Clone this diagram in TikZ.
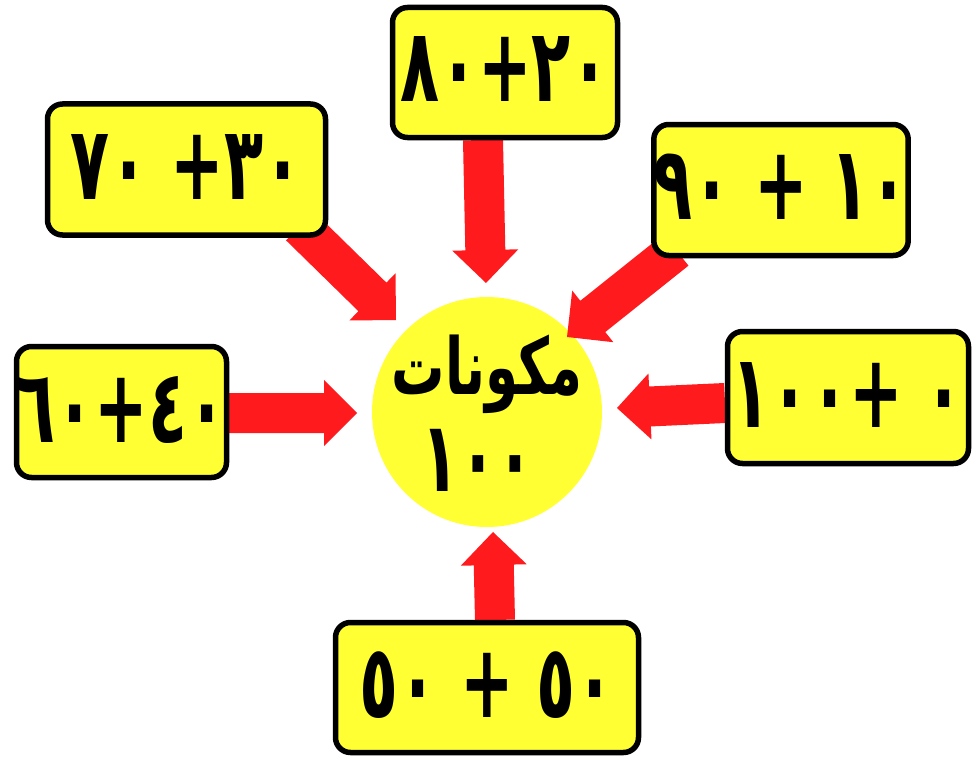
\documentclass[tikz,border=0pt]{standalone}
\usepackage{fontspec}
\usepackage{graphicx}
\usetikzlibrary{calc}
\TeXXeTstate=1
\newfontfamily\arabicfont[Script=Arabic]{DejaVu Sans}
\definecolor{boxyellow}{RGB}{255,255,51}
\definecolor{arrred}{RGB}{255,26,30}
\newcommand\redarrow[2]{%
  \coordinate (hb) at ($(#2)!33pt!(#1)$);
  \fill[arrred] ($(#1)!20pt!90:(#2)$) -- ($(hb)!20pt!-90:(#1)$) -- ($(hb)!33pt!-90:(#1)$) -- (#2)
    -- ($(hb)!33pt!90:(#1)$) -- ($(hb)!20pt!90:(#1)$) -- ($(#1)!20pt!-90:(#2)$) -- cycle;
}
\newcommand\tallnum[1]{\raisebox{6pt}{\scalebox{1}[1.6]{\beginR #1\endR}}}
\begin{document}
\begin{tikzpicture}[x=1pt,y=-1pt,
  box/.style={draw=black, line width=5.5pt, fill=boxyellow, rounded corners=15pt, inner sep=0pt,
    font=\arabicfont\bfseries\fontsize{64}{70}\selectfont},
  ctext/.style={inner sep=0pt, font=\arabicfont\bfseries\fontsize{56}{60}\selectfont}]
\useasboundingbox (0,0) rectangle (978,760);
\node[circle, fill=boxyellow, minimum size=230pt, inner sep=0pt] (c) at (487,412) {};
\node[ctext] (ct) at (487,374) {\scalebox{0.95}[1.4]{\beginR مكونات\endR}};
\node[ctext] (cn) at (478,460) {\scalebox{1.1}[1.75]{\beginR ١٠٠\endR}};
% arrow ends
\coordinate (sA) at (483,140); \coordinate (tA) at (486,283);
\coordinate (sB) at (300,226); \coordinate (tB) at (396,320);
\coordinate (sC) at (676,250); \coordinate (tC) at (567,337);
\coordinate (sD) at (229,413); \coordinate (tD) at (357,413);
\coordinate (sE) at (725,403); \coordinate (tE) at (617,408);
\coordinate (sF) at (495,620); \coordinate (tF) at (493,532);
\redarrow{sA}{tA}
\redarrow{sB}{tB}
\redarrow{sC}{tC}
\redarrow{sD}{tD}
\redarrow{sE}{tE}
\redarrow{sF}{tF}
% boxes
\node[box, minimum width=225pt, minimum height=130pt] (b1) at (505,72.5) {\tallnum{٢٠+٨٠}};
\node[box, minimum width=278pt, minimum height=131pt] (b2) at (186.5,169.5) {\tallnum{٣٠+ ٧٠}};
\node[box, minimum width=241pt, minimum height=131pt] (b3) at (781,190) {\tallnum{١٠ + ٩٠}};
\node[box, minimum width=210pt, minimum height=131pt] (b4) at (121.5,412) {\tallnum{٤٠+٦٠}};
\node[box, minimum width=241pt, minimum height=132pt] (b5) at (848,397.5) {\tallnum{٠ +١٠٠}};
\node[box, minimum width=303pt, minimum height=130pt] (b6) at (487,687.5) {\tallnum{٥٠ + ٥٠}};
\end{tikzpicture}
\end{document}
